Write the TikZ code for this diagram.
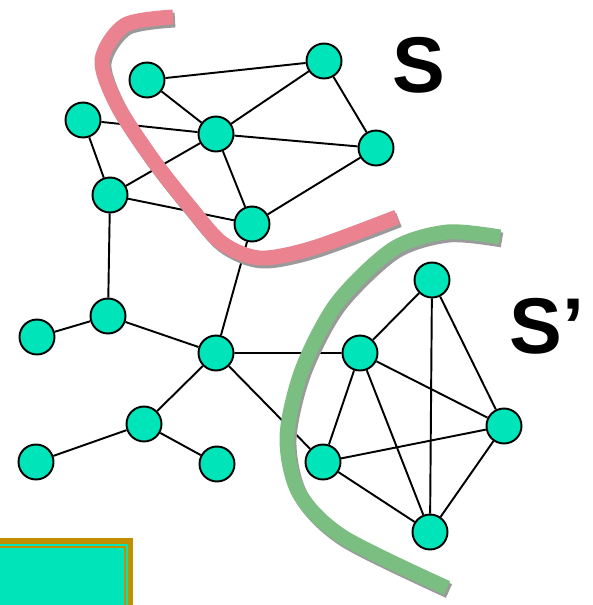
\documentclass[tikz,border=0pt]{standalone}
\usepackage{fontspec}
\setmainfont{Liberation Sans}
\usepackage{tikz}
\usetikzlibrary{backgrounds}
\definecolor{vtxFill}{HTML}{00E4B9}
\definecolor{cutPink}{HTML}{EA838F}
\definecolor{cutGreen}{HTML}{7BBE81}
\definecolor{cutShade}{HTML}{9A9A9A}
\definecolor{boxGold}{HTML}{BF8F00}

\begin{document}
\begin{tikzpicture}[x=0.02cm,y=-0.02cm,
    vtx/.style={circle,draw=black,line width=1.1pt,fill=vtxFill,minimum size=0.7cm,inner sep=0pt},
    edge/.style={line width=1.1pt},
    cut/.style={line width=8.5pt},
    setname/.style={anchor=base,font=\fontsize{45}{45}\selectfont\bfseries}]
  \useasboundingbox (0,0) rectangle (592,605);

  % vertices of S
  \node[vtx] (s1) at (147,80) {};
  \node[vtx] (s2) at (324,61) {};
  \node[vtx] (s3) at (83,120) {};
  \node[vtx] (s4) at (216,134) {};
  \node[vtx] (s5) at (376,148) {};
  \node[vtx] (s6) at (110,195) {};
  \node[vtx] (s7) at (252,224) {};
  % vertices of S'
  \node[vtx] (t1) at (432,280) {};
  \node[vtx] (t2) at (360,353) {};
  \node[vtx] (t3) at (504,426) {};
  \node[vtx] (t4) at (323,462) {};
  \node[vtx] (t5) at (430,532) {};
  % the rest
  \node[vtx] (m1) at (108,316) {};
  \node[vtx] (m2) at (37,337) {};
  \node[vtx] (hub) at (216,353) {};
  \node[vtx] (m3) at (144,424) {};
  \node[vtx] (m4) at (36,462) {};
  \node[vtx] (m5) at (217,464) {};

  \node[setname] (sS) at (419,92) {S};
  \node[setname] (sT) at (547,353) {S’};

  \begin{scope}[on background layer]
    \draw[edge] (s1) -- (s2) (s1) -- (s4) (s2) -- (s4) (s2) -- (s5)
      (s3) -- (s4) (s3) -- (s6) (s4) -- (s6) (s4) -- (s5) (s4) -- (s7)
      (s6) -- (s7) (s5) -- (s7) (s6) -- (m1) (s7) -- (hub);
    \draw[edge] (m1) -- (m2) (m1) -- (hub) (hub) -- (m3) (m3) -- (m4) (m3) -- (m5)
      (hub) -- (t2) (hub) -- (t4);
    \draw[edge] (t2) -- (t1) (t2) -- (t4) (t2) -- (t3) (t2) -- (t5)
      (t1) -- (t5) (t1) -- (t3) (t4) -- (t3) (t4) -- (t5) (t3) -- (t5);

    % the two cuts, each with a grey shadow
    \draw[cut,cutShade,shift={(2,3)}] plot[smooth] coordinates {(173,17) (125,25) (102,60) (117,105) (153,160) (190,207) (222,243) (260,258) (313,248) (397,217)};
    \draw[cut,cutPink] plot[smooth] coordinates {(173,17) (125,25) (102,60) (117,105) (153,160) (190,207) (222,243) (260,258) (313,248) (397,217)};
    \draw[cut,cutShade,shift={(2,3)}] plot[smooth] coordinates {(500,237) (447,232) (393,249) (337,303) (302,370) (287,437) (299,493) (343,537) (447,588)};
    \draw[cut,cutGreen] plot[smooth] coordinates {(500,237) (447,232) (393,249) (337,303) (302,370) (287,437) (299,493) (343,537) (447,588)};
  \end{scope}

  % box in the lower corner
  \fill[boxGold] (0,538) rectangle (133,605);
  \fill[vtxFill] (0,544) rectangle (128,605);
  \draw[boxGold,line width=0.6pt] (0,547) -- (125,547) -- (125,605);
\end{tikzpicture}
\end{document}
